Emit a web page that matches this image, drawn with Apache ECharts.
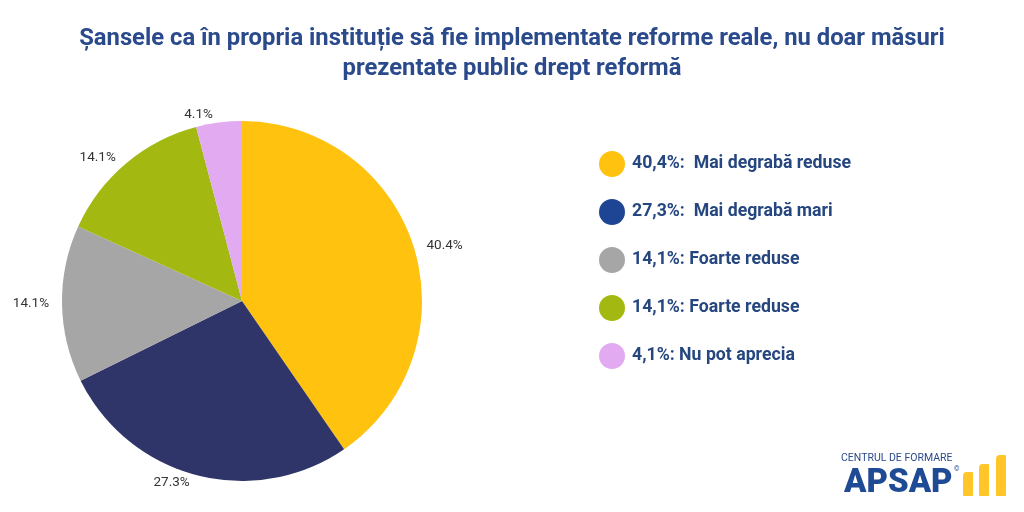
<!DOCTYPE html>
<html>
<head>
<meta charset="utf-8">
<script src="https://cdn.jsdelivr.net/npm/echarts@6/dist/echarts.min.js"></script>
<style>
  html, body { margin: 0; padding: 0; background: #fff; }
  #chart { width: 1024px; height: 512px; }
</style>
</head>
<body>
<div id="chart"></div>
<script>
// date din grafic
const categories = ['Mai degrabă reduse', 'Mai degrabă mari', 'Foarte reduse', 'Foarte reduse ', 'Nu pot aprecia'];
const legendLabels = ['40,4%:  Mai degrabă reduse', '27,3%:  Mai degrabă mari', '14,1%: Foarte reduse', '14,1%: Foarte reduse', '4,1%: Nu pot aprecia'];
const values = [40.4, 27.3, 14.1, 14.1, 4.1];
const sliceColors = ['#FFC20E', '#2F3569', '#A6A6A6', '#A3B810', '#E2AAF0'];
const legendColors = ['#FFC20E', '#1E4494', '#A6A6A6', '#A3B810', '#E2AAF0'];

const chartInstance = echarts.init(document.getElementById('chart'));

// numele din legendă se repetă, deci le facem unice
const pieData = categories.map((name, i) => ({
    name: legendLabels[i] + '\u200b'.repeat(i),
    value: values[i],
    itemStyle: { color: sliceColors[i] },
}));

const option = {
    title: {
        text: 'Șansele ca în propria instituție să fie implementate reforme reale, nu doar măsuri\nprezentate public drept reformă',
        left: 'center',
        top: 19,
        textStyle: {
            fontFamily: 'Roboto',
            fontSize: 23.8,
            fontWeight: 'bold',
            color: '#2A4A8C',
            lineHeight: 30,
        },
    },
    legend: {
        orient: 'vertical',
        left: 594,
        top: 146,
        itemWidth: 26,
        itemHeight: 26,
        itemGap: 22,
        icon: 'circle',
        textStyle: {
            fontFamily: 'Roboto',
            fontSize: 17.7,
            fontWeight: 'bold',
            color: '#26467F',
            padding: [0, 0, 0, 2],
        },
        data: pieData.map((d, i) => ({
            name: d.name,
            itemStyle: { color: legendColors[i] },
        })),
        selectedMode: false,
    },
    graphic: [
        {
            type: 'text',
            left: 841,
            top: 453,
            style: { text: 'CENTRUL DE FORMARE', fontFamily: 'Roboto', fontSize: 10.5, fill: '#2B4A8C' },
        },
        {
            type: 'text',
            left: 844,
            top: 467,
            style: { text: 'APSAP', fontFamily: 'Roboto', fontSize: 33, fontWeight: 900, fill: '#1F4A94' },
        },
        {
            type: 'text',
            left: 954,
            top: 466,
            style: { text: '©', fontFamily: 'Roboto', fontSize: 7, fill: '#1F4A94' },
        },
        { type: 'rect', shape: { x: 963, y: 472, width: 10, height: 24, r: [4, 1, 1, 1] }, style: { fill: '#FFC629' } },
        { type: 'rect', shape: { x: 979, y: 464, width: 10, height: 32, r: [4, 1, 1, 1] }, style: { fill: '#FFC629' } },
        { type: 'rect', shape: { x: 996, y: 455, width: 10, height: 41, r: [4, 1, 1, 1] }, style: { fill: '#FFC629' } },
    ],
    series: [
        {
            type: 'pie',
            center: [242, 301],
            radius: 180,
            startAngle: 90,
            clockwise: true,
            avoidLabelOverlap: false,
            data: pieData,
            label: {
                show: true,
                position: 'outside',
                formatter: (p) => values[p.dataIndex].toFixed(1) + '%',
                fontFamily: 'Roboto',
                fontSize: 13.5,
                color: '#333',
            },
            labelLine: { show: false, length: 8, length2: 0 },
            itemStyle: { borderWidth: 0 },
            emphasis: { disabled: true },
        },
    ],
};

chartInstance.setOption(option);
</script>
</body>
</html>
